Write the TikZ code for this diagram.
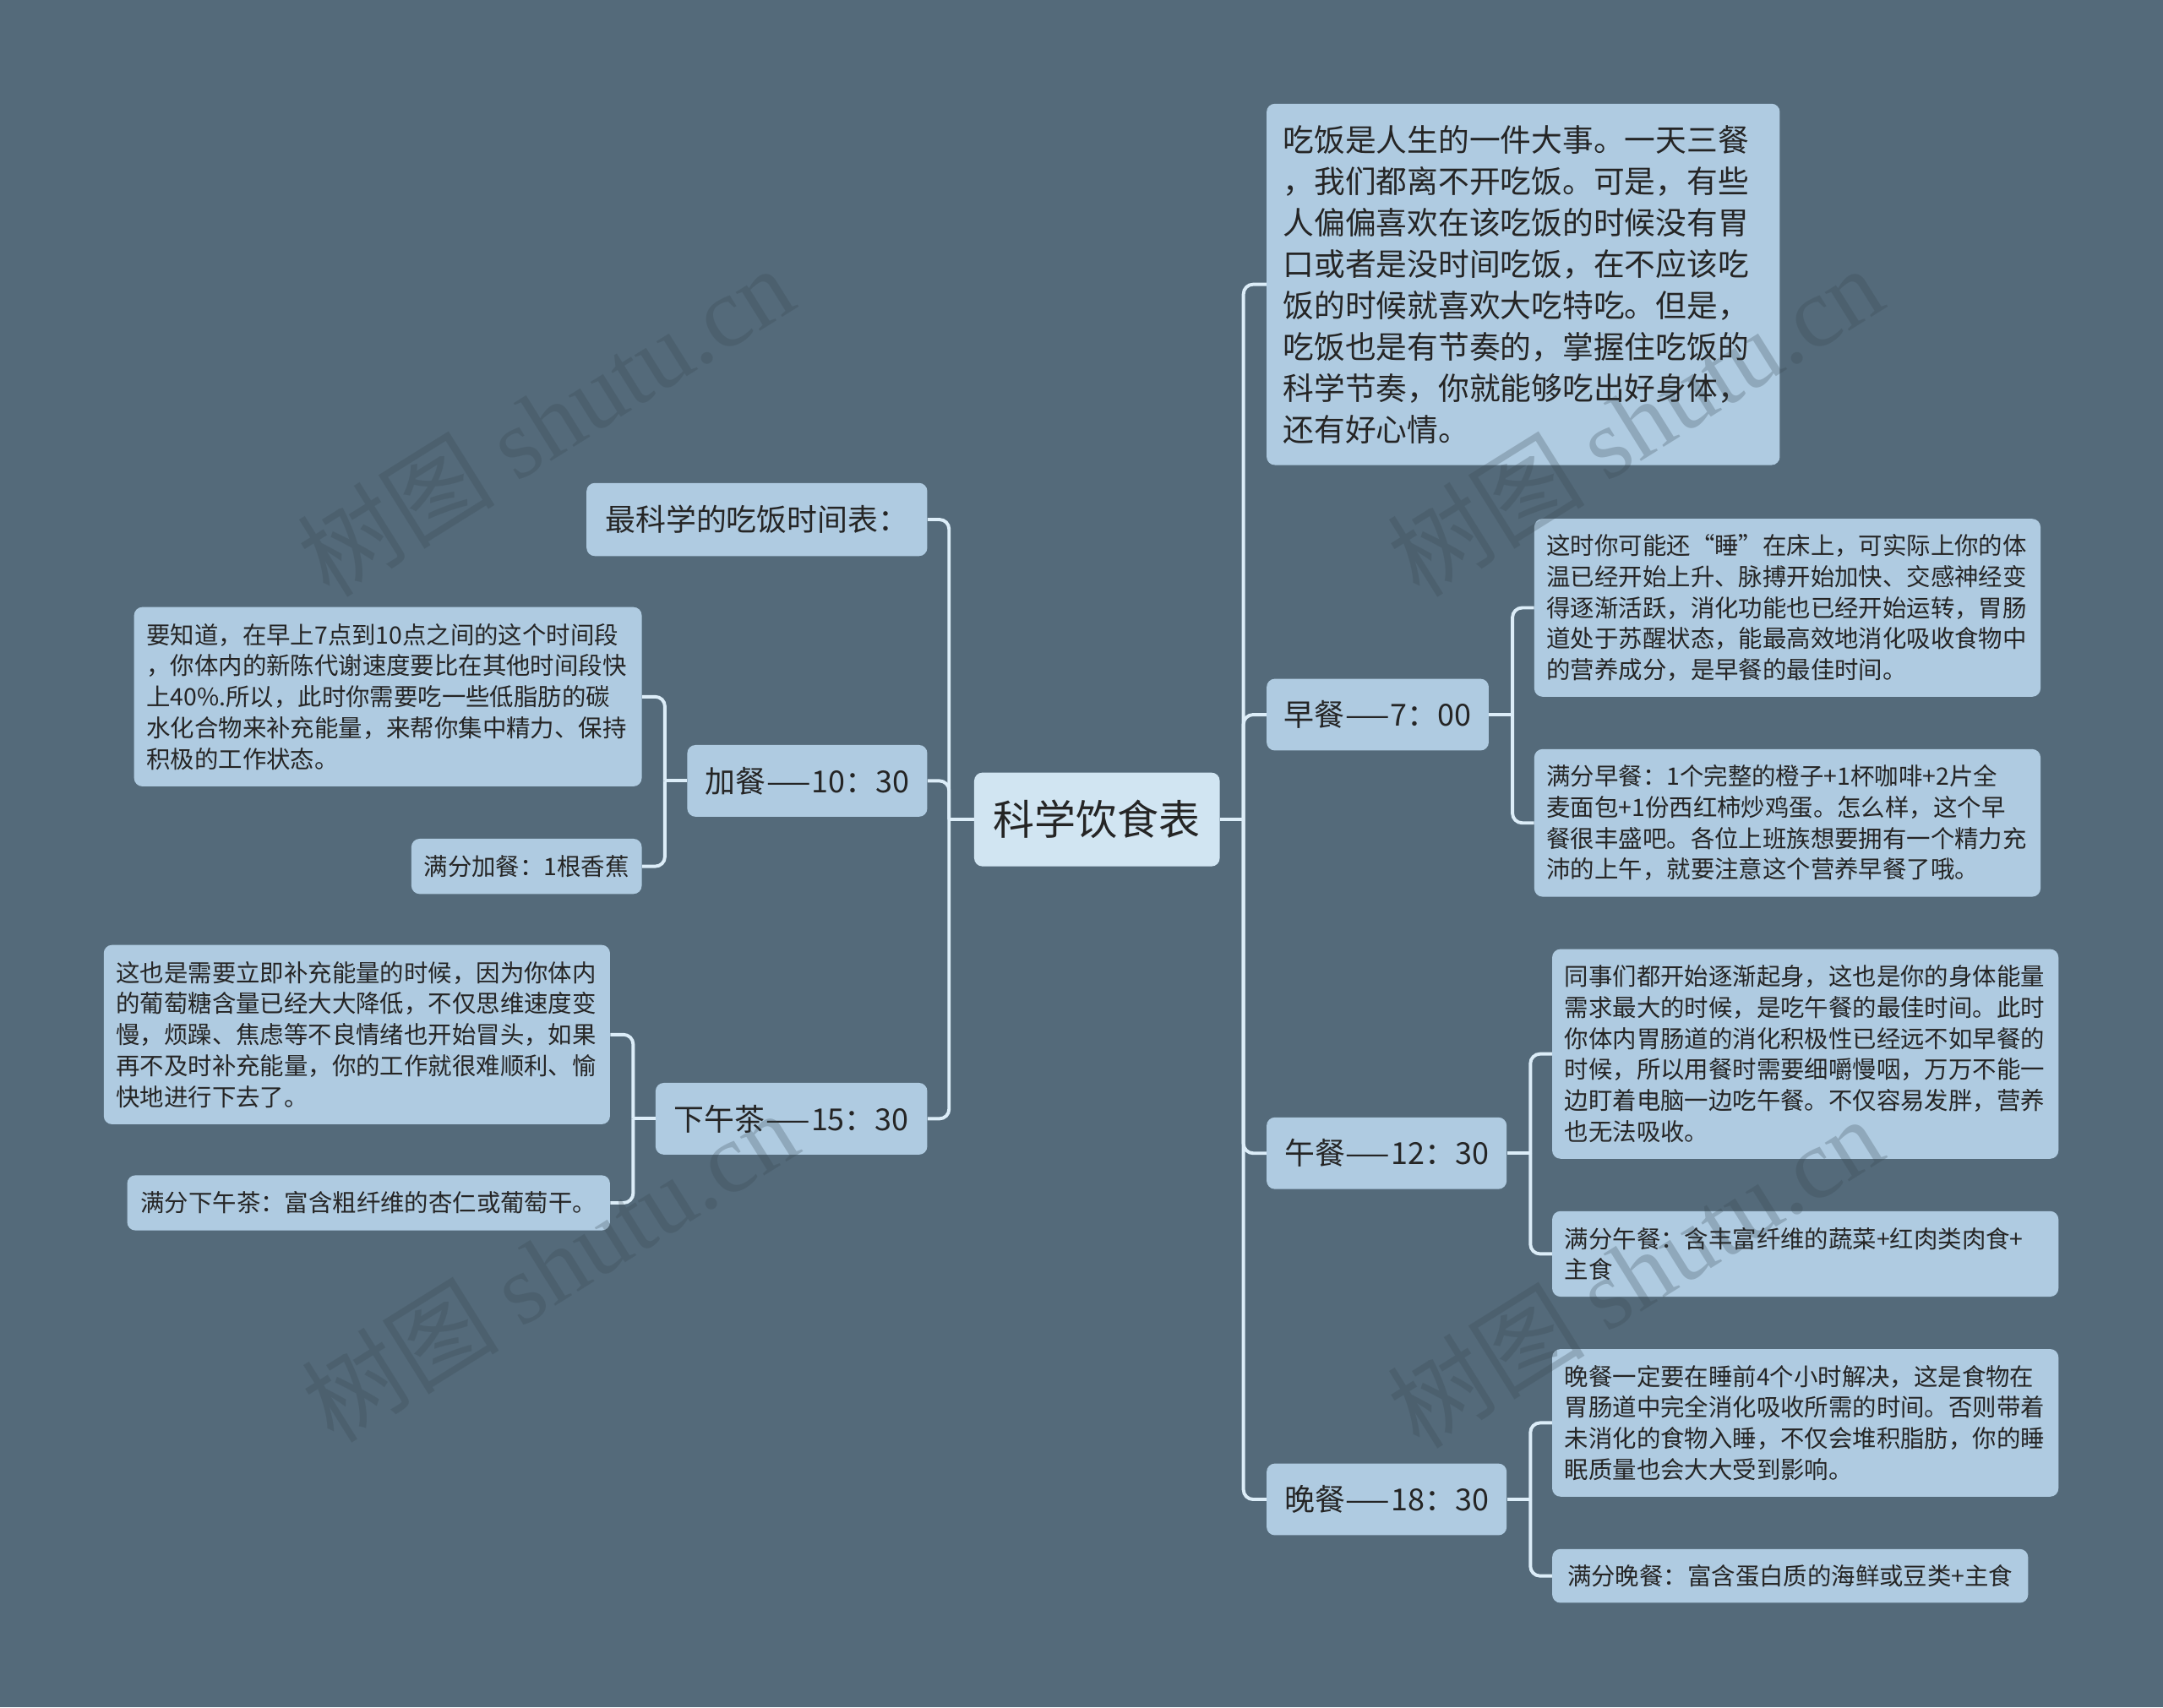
\documentclass[tikz,border=0pt]{standalone}
\usepackage{graphicx}
\usepackage{fontspec}
\setmainfont{Noto Sans CJK SC}
\newfontfamily\wmlatin{Liberation Serif}
\usetikzlibrary{calc}
\definecolor{bgc}{HTML}{546A7A}
\definecolor{nodec}{HTML}{AFCBE1}
\definecolor{rootc}{HTML}{D1E5F2}
\definecolor{linec}{HTML}{DCEDF8}
\definecolor{txtc}{HTML}{252525}
\definecolor{wmc}{HTML}{37464F}
\newcommand\wdash{\scalebox{1.7}[1]{—}}
\begin{document}
\begin{tikzpicture}[x=1pt,y=-1pt,
 box/.style={fill=nodec, rounded corners=6pt, text=txtc, inner ysep=0pt, anchor=north west},
 rootbox/.style={box, fill=rootc, inner xsep=0pt, align=center, font=\fontsize{30}{36}\selectfont},
 lvlbox/.style={box, inner xsep=0pt, align=center, font=\fontsize{22}{28}\selectfont},
 introbox/.style={box, inner xsep=12pt, align=left, font=\fontsize{22.5}{30}\selectfont},
 leafbox/.style={box, inner xsep=9pt, align=left, font=\fontsize{17.4}{22.5}\selectfont},
 leafone/.style={box, inner xsep=0pt, align=center, font=\fontsize{17.4}{22.5}\selectfont},
 conn/.style={draw=linec, line width=2.4pt, rounded corners=7pt},
 wm/.style={text=wmc, text opacity=0.26, font=\fontsize{72}{80}\selectfont, inner sep=0pt}
]
\useasboundingbox (0,0) rectangle (1568,1238);
\fill[bgc] (0,0) rectangle (1568,1238);

% root
\node[rootbox, minimum width=178pt, minimum height=68pt] (root) at (706,560) {科学饮食表};

% right side
\node[introbox, text width=348pt, minimum height=262pt] (intro) at (918,75) {吃饭是人生的一件大事。一天三餐\\，我们都离不开吃饭。可是，有些\\人偏偏喜欢在该吃饭的时候没有胃\\口或者是没时间吃饭，在不应该吃\\饭的时候就喜欢大吃特吃。但是，\\吃饭也是有节奏的，掌握住吃饭的\\科学节奏，你就能够吃出好身体，\\还有好心情。};

\node[lvlbox, minimum width=161pt, minimum height=52pt] (zao) at (918,492) {早餐\wdash 7：00};
\node[leafbox, text width=349pt, minimum height=129pt] (zaoa) at (1112,376) {这时你可能还“睡”在床上，可实际上你的体\\温已经开始上升、脉搏开始加快、交感神经变\\得逐渐活跃，消化功能也已经开始运转，胃肠\\道处于苏醒状态，能最高效地消化吸收食物中\\的营养成分，是早餐的最佳时间。};
\node[leafbox, text width=349pt, minimum height=107pt] (zaob) at (1112,543) {满分早餐：1个完整的橙子+1杯咖啡+2片全\\麦面包+1份西红柿炒鸡蛋。怎么样，这个早\\餐很丰盛吧。各位上班族想要拥有一个精力充\\沛的上午，就要注意这个营养早餐了哦。};

\node[lvlbox, minimum width=174pt, minimum height=52pt] (wu) at (918,810) {午餐\wdash 12：30};
\node[leafbox, text width=349pt, minimum height=152pt] (wua) at (1125,688) {同事们都开始逐渐起身，这也是你的身体能量\\需求最大的时候，是吃午餐的最佳时间。此时\\你体内胃肠道的消化积极性已经远不如早餐的\\时候，所以用餐时需要细嚼慢咽，万万不能一\\边盯着电脑一边吃午餐。不仅容易发胖，营养\\也无法吸收。};
\node[leafbox, text width=349pt, minimum height=62pt] (wub) at (1125,878) {满分午餐：含丰富纤维的蔬菜+红肉类肉食+\\主食};

\node[lvlbox, minimum width=174pt, minimum height=52pt] (wan) at (918,1061) {晚餐\wdash 18：30};
\node[leafbox, text width=349pt, minimum height=107pt] (wana) at (1125,978) {晚餐一定要在睡前4个小时解决，这是食物在\\胃肠道中完全消化吸收所需的时间。否则带着\\未消化的食物入睡，不仅会堆积脂肪，你的睡\\眠质量也会大大受到影响。};
\node[leafone, minimum width=345pt, minimum height=39pt] (wanb) at (1125,1123) {满分晚餐：富含蛋白质的海鲜或豆类+主食};

% left side
\node[lvlbox, minimum width=247pt, minimum height=53pt] (sched) at (425,350) {最科学的吃饭时间表：};

\node[lvlbox, minimum width=174pt, minimum height=52pt] (jia) at (498,540) {加餐\wdash 10：30};
\node[leafbox, text width=350pt, minimum height=130pt] (jiaa) at (97,440) {要知道，在早上7点到10点之间的这个时间段\\，你体内的新陈代谢速度要比在其他时间段快\\上40\%.所以，此时你需要吃一些低脂肪的碳\\水化合物来补充能量，来帮你集中精力、保持\\积极的工作状态。};
\node[leafone, minimum width=167pt, minimum height=40pt] (jiab) at (298,608) {满分加餐：1根香蕉};

\node[lvlbox, minimum width=197pt, minimum height=52pt] (xwc) at (475,785) {下午茶\wdash 15：30};
\node[leafbox, text width=349pt, minimum height=130pt] (xwca) at (75,685) {这也是需要立即补充能量的时候，因为你体内\\的葡萄糖含量已经大大降低，不仅思维速度变\\慢，烦躁、焦虑等不良情绪也开始冒头，如果\\再不及时补充能量，你的工作就很难顺利、愉\\快地进行下去了。};
\node[leafone, minimum width=350pt, minimum height=40pt] (xwcb) at (92,852) {满分下午茶：富含粗纤维的杏仁或葡萄干。};

% connectors
\coordinate (rj) at ($(root.east)+(17,0)$);
\coordinate (lj) at ($(root.west)+(-18,0)$);
\draw[conn] (root.east) -- (rj);
\foreach \n in {intro,zao,wu,wan} \draw[conn] (rj) |- (\n.west);
\draw[conn] (root.west) -- (lj);
\foreach \n in {sched,jia,xwc} \draw[conn] (lj) |- (\n.east);

\coordinate (zj) at ($(zao.east)+(17,0)$);
\draw[conn] (zao.east) -- (zj);
\draw[conn] (zj) |- (zaoa.west);
\draw[conn] (zj) |- (zaob.west);

\coordinate (wj) at ($(wu.east)+(17,0)$);
\draw[conn] (wu.east) -- (wj);
\draw[conn] (wj) |- (wua.west);
\draw[conn] (wj) |- (wub.west);

\coordinate (nj) at ($(wan.east)+(17,0)$);
\draw[conn] (wan.east) -- (nj);
\draw[conn] (nj) |- (wana.west);
\draw[conn] (nj) |- (wanb.west);

\coordinate (jj) at ($(jia.west)+(-16,0)$);
\draw[conn] (jia.west) -- (jj);
\draw[conn] (jj) |- (jiaa.east);
\draw[conn] (jj) |- (jiab.east);

\coordinate (xj) at ($(xwc.west)+(-16,0)$);
\draw[conn] (xwc.west) -- (xj);
\draw[conn] (xj) |- (xwca.east);
\draw[conn] (xj) |- (xwcb.east);

% watermarks (drawn over everything, semi-transparent)
\node[wm, rotate=32] (wm1) at (395,305) {树图 {\wmlatin shutu.cn}};
\node[wm, rotate=32] (wm2) at (1185,305) {树图 {\wmlatin shutu.cn}};
\node[wm, rotate=32] (wm3) at (398,918) {树图 {\wmlatin shutu.cn}};
\node[wm, rotate=32] (wm4) at (1185,922) {树图 {\wmlatin shutu.cn}};
\end{tikzpicture}
\end{document}
